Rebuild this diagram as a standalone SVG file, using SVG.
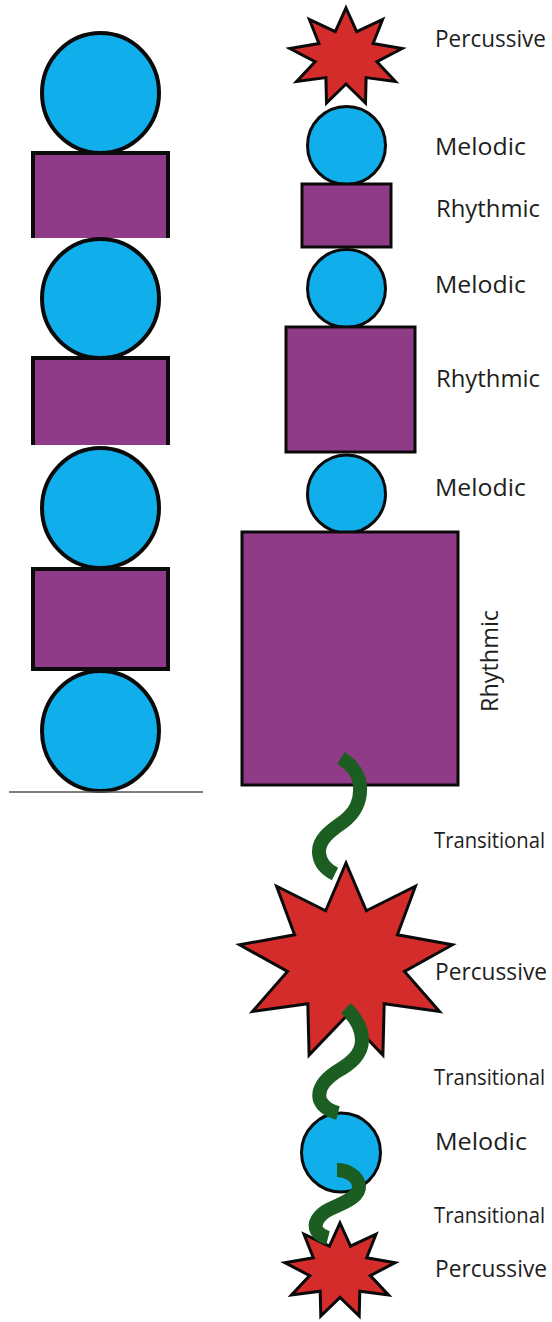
<svg xmlns="http://www.w3.org/2000/svg" width="552" height="1322" viewBox="0 0 552 1322">
<style>
.bg{fill:#ffffff}
.mel{fill:#10aeeb;stroke:#0a0a0a;stroke-width:3}
.rhy{fill:#8f3b88;stroke:#0a0a0a;stroke-width:3}
.perc{fill:#d42b2b;stroke:#0a0a0a;stroke-width:3;stroke-linejoin:miter}
.lmel{fill:#10aeeb;stroke:#0a0a0a;stroke-width:4}
.lrhy{fill:#8f3b88;stroke:none}
.ledge{fill:none;stroke:#0a0a0a;stroke-width:4}
.trans{fill:none;stroke:#1c5e22;stroke-width:14;stroke-linecap:butt}
.lbl{font-family:"Open Sans","Liberation Sans",Arial,sans-serif;font-size:23px;fill:#1e1e1e}
.tl{font-size:21px}
</style>
<rect class="bg" x="0" y="0" width="552" height="1322"/>

<!-- Left column (three stacked panels) -->
<g id="left-panel-1">
  <rect class="lrhy" x="33" y="153" width="135" height="85"/>
  <path class="ledge" d="M33,238 V153 H168 V238"/>
  <ellipse class="lmel" cx="100.5" cy="93" rx="58.5" ry="60"/>
</g>
<g id="left-panel-2">
  <rect class="lrhy" x="33" y="358" width="135" height="87"/>
  <path class="ledge" d="M33,445 V358 H168 V445"/>
  <ellipse class="lmel" cx="100.5" cy="298.5" rx="58.5" ry="59.5"/>
</g>
<g id="left-panel-3">
  <ellipse class="lmel" cx="100.5" cy="508" rx="58.5" ry="60"/>
  <rect class="rhy" x="33" y="569" width="135" height="100" style="stroke-width:4"/>
  <ellipse class="lmel" cx="100.5" cy="731" rx="58.5" ry="60"/>
  <line x1="9" y1="792" x2="203" y2="792" stroke="#555555" stroke-width="1.5"/>
</g>

<!-- Right column -->
<g id="percussive-1">
  <polygon class="perc" points="346,8 356.7,31.7 382.6,19.5 373.1,43.5 402.1,48.5 376.9,61.7 395.4,81.5 366.1,77.6 365.5,103 346,84 326.5,103 325.9,77.6 296.6,81.5 315.1,61.7 289.9,48.5 318.9,43.5 309.4,19.5 335.3,31.7"/>
  <text class="lbl" x="435" y="47" textLength="111" lengthAdjust="spacingAndGlyphs">Percussive</text>
</g>
<g id="melodic-1">
  <circle class="mel" cx="346.5" cy="145.5" r="39"/>
  <text class="lbl" x="435" y="155" textLength="91" lengthAdjust="spacingAndGlyphs">Melodic</text>
</g>
<g id="rhythmic-1">
  <rect class="rhy" x="302" y="184" width="89" height="63"/>
  <text class="lbl" x="436" y="217" textLength="104" lengthAdjust="spacingAndGlyphs">Rhythmic</text>
</g>
<g id="melodic-2">
  <circle class="mel" cx="346.5" cy="288.5" r="39"/>
  <text class="lbl" x="435" y="293" textLength="91" lengthAdjust="spacingAndGlyphs">Melodic</text>
</g>
<g id="rhythmic-2">
  <rect class="rhy" x="286" y="327" width="129" height="125"/>
  <text class="lbl" x="436" y="387" textLength="104" lengthAdjust="spacingAndGlyphs">Rhythmic</text>
</g>
<g id="melodic-3">
  <circle class="mel" cx="346.5" cy="494" r="39"/>
  <text class="lbl" x="435" y="496" textLength="91" lengthAdjust="spacingAndGlyphs">Melodic</text>
</g>
<g id="rhythmic-3">
  <rect class="rhy" x="242" y="532" width="216" height="253"/>
  <text class="lbl" transform="translate(498,661) rotate(-90)" text-anchor="middle" textLength="102" lengthAdjust="spacingAndGlyphs">Rhythmic</text>
</g>
<g id="percussive-2">
  <polygon class="perc" points="346,863 366.3,910.8 415.4,886.2 397.4,934.8 452.4,944.8 404.5,971.5 439.5,1011.5 384.2,1003.7 382.9,1055 346,1016.5 309.1,1055 307.8,1003.7 252.5,1011.5 287.5,971.5 239.6,944.8 294.6,934.8 276.6,886.2 325.7,910.8"/>
  <text class="lbl" x="435" y="980" textLength="112" lengthAdjust="spacingAndGlyphs">Percussive</text>
</g>
<g id="melodic-4">
  <circle class="mel" cx="341" cy="1152.5" r="39.5"/>
  <text class="lbl" x="435" y="1150" textLength="92" lengthAdjust="spacingAndGlyphs">Melodic</text>
</g>
<g id="percussive-3">
  <polygon class="perc" points="340,1223 350.5,1246.2 376,1234.2 366.7,1257.8 395.1,1262.7 370.3,1275.6 388.5,1295 359.8,1291.2 359.2,1316.1 340,1297.4 320.8,1316.1 320.2,1291.2 291.5,1295 309.7,1275.6 284.9,1262.7 313.3,1257.8 304,1234.2 329.5,1246.2"/>
  <text class="lbl" x="435" y="1277" textLength="112" lengthAdjust="spacingAndGlyphs">Percussive</text>
</g>
<g id="transitional-labels">
  <text class="lbl tl" x="434" y="848" textLength="111" lengthAdjust="spacingAndGlyphs">Transitional</text>
  <text class="lbl tl" x="434" y="1085" textLength="111" lengthAdjust="spacingAndGlyphs">Transitional</text>
  <text class="lbl tl" x="434" y="1223" textLength="111" lengthAdjust="spacingAndGlyphs">Transitional</text>
</g>

<!-- Connectors (transitional squiggles) -->
<g id="connectors">
  <path class="trans" d="M341,758 C352,765 359,773 360,786 C361,801 356,812 343,822 C330,831 318,840 319,853 C320,864 327,870 335,874"/>
  <path class="trans" d="M346,1008 C354,1016 362,1028 362,1040 C362,1055 350,1064 336,1072 C324,1080 317,1090 320,1100 C323,1107 330,1111 338,1113"/>
  <path class="trans" d="M337,1170 C347,1170 358,1176 359,1186 C360,1197 343,1203 330,1209 C318,1215 313,1224 317,1231 C320,1235 324,1237 328,1238"/>
</g>
</svg>
